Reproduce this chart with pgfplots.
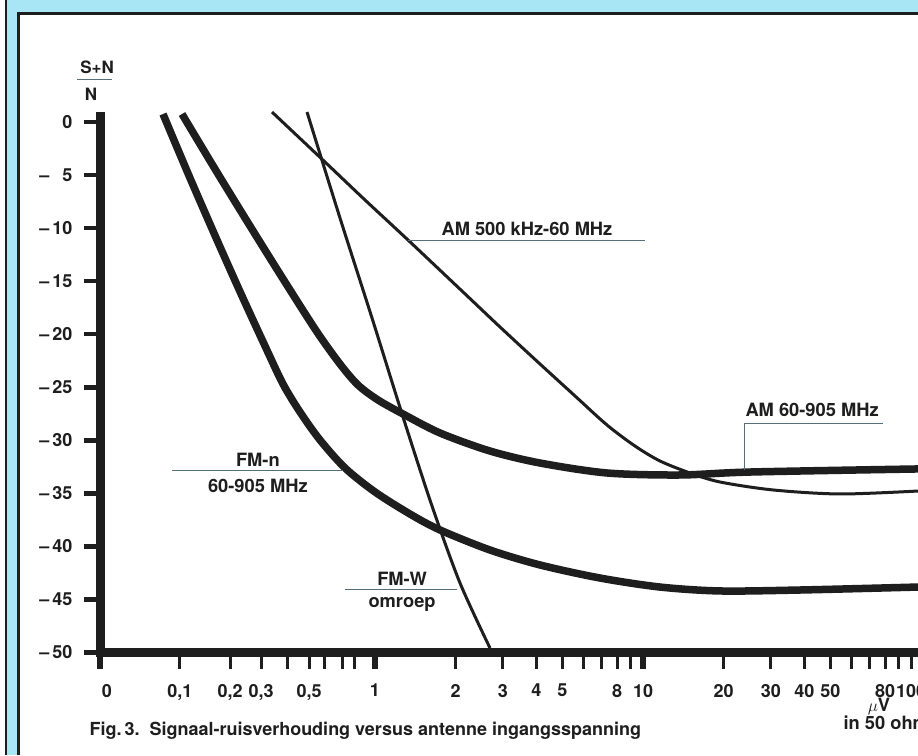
\documentclass[border=0pt]{standalone}
\usepackage{pgfplots}
\pgfplotsset{compat=1.18}
\usepackage{fontspec}
\setmainfont{TeX Gyre Heros}
\definecolor{ink}{HTML}{1E1E1E}
\definecolor{frameblue}{HTML}{A9E6F5}
\definecolor{uline}{HTML}{56707A}
\newcommand{\lf}{\fontsize{18.3}{21}\selectfont\bfseries}
\newcommand{\tf}{\fontsize{18}{20}\selectfont\bfseries}
\begin{document}
\begin{tikzpicture}[x=1pt,y=1pt]
\fill[white] (0,0) rectangle (918,755);
\fill[frameblue] (6,0) rectangle (918,755);
\draw[ink, line width=2.5pt] (6,0) -- (6,755);
\fill[white] (18,0) rectangle (918,741.5);
\draw[ink, line width=3pt] (18,0) -- (18,741.5) -- (918,741.5);
\begin{axis}[
  at={(100pt,102.5pt)}, anchor=south west,
  scale only axis, width=818pt, height=535.8pt,
  xmin=-1.0261, xmax=2.0261, ymin=-50, ymax=0.5,
  axis x line=bottom, axis y line=left,
  axis line style={-, line width=9pt, ink, line cap=rect},
  clip=false,
  tick align=outside, major tick length=16pt,
  xtick style={line width=3pt, ink},
  ytick style={line width=4.5pt, ink},
  tick label style={font=\tf, text=ink},
  xticklabel style={yshift=-12pt},
  yticklabel style={xshift=-8pt},
  xtick={-1.0261,-0.728,-0.541,-0.425,-0.325,-0.246,-0.187,-0.123,-0.075,0,0.301,0.477,0.602,0.699,0.778,0.845,0.903,0.954,1,1.301,1.477,1.602,1.699,1.778,1.845,1.903,1.954,2},
  xticklabels={{\hspace*{14pt}0},{0,1},{0,2},{0,3},{},{0,5},{},{},{},1,2,3,4,5,{},{},8,{},10,20,30,40,50,{},{},80,{},100},
  extra x ticks={-1.0261,0,1},
  extra x tick labels={},
  extra x tick style={xtick style={line width=6pt}},
  ytick={-50,-45,-40,-35,-30,-25,-20,-15,-10,-5,0},
  yticklabels={\textendash\,50,\textendash\,45,\textendash\,40,\textendash\,35,\textendash\,30,\textendash\,25,\textendash\,20,\textendash\,15,\textendash\,10,\textendash\,\phantom{0}5,0},
]
% FM-W omroep (thin, steep)
\addplot[ink, line width=3pt, smooth, line join=round] coordinates {
(-0.2537,0.94) (-0.1306,-9.05) (-0.0112,-18.47) (0.1045,-27.80) (0.2127,-36.19) (0.3172,-43.45) (0.4291,-49.58)};
% AM 500 kHz-60 MHz (thin)
\addplot[ink, line width=3pt, smooth, line join=round] coordinates {
(-0.3843,0.94) (-0.1866,-3.77) (-0.0373,-7.35) (0.1231,-11.12) (0.3284,-16.02) (0.4664,-19.32)
(0.6157,-22.81) (0.7463,-25.82) (0.8657,-28.56) (0.9701,-30.54) (1.0634,-31.95) (1.1754,-33.08)
(1.2873,-33.93) (1.4851,-34.68) (1.7351,-35.06) (2.0261,-34.78)};
% AM 60-905 MHz (thick)
\addplot[ink, line width=7.5pt, smooth, line join=round] coordinates {
(-0.7201,0.75) (-0.5970,-4.43) (-0.4664,-9.80) (-0.3358,-15.08) (-0.2164,-19.79) (-0.1306,-22.81)
(-0.0634,-24.79) (0.0112,-26.20) (0.1045,-27.52) (0.2425,-29.31) (0.4291,-31.01) (0.6157,-32.14)
(0.8657,-33.08) (1.1381,-33.27) (1.3993,-32.99) (2.0261,-32.70)};
% FM-n 60-905 MHz (thick)
\addplot[ink, line width=7.5pt, smooth, line join=round] coordinates {
(-0.7910,0.75) (-0.6903,-5.28) (-0.5896,-11.12) (-0.4963,-16.40) (-0.4104,-21.11) (-0.3433,-24.69)
(-0.2799,-27.33) (-0.2052,-29.97) (-0.1119,-32.61) (0.0,-34.87) (0.1306,-36.95) (0.2425,-38.45)
(0.4291,-40.34) (0.6157,-41.75) (0.8396,-42.98) (1.0634,-43.83) (1.2873,-44.20) (1.5858,-44.11) (2.0261,-43.83)};
% labels
\node[font=\lf, text=ink] at (axis cs:0.567,-10.08) {AM 500 kHz-60 MHz};
\draw[uline, line width=0.9pt] (axis cs:0.123,-11.12) -- (axis cs:1.007,-11.12);
\node[font=\lf, text=ink] at (axis cs:1.631,-27.14) {AM 60-905 MHz};
\draw[uline, line width=0.9pt] (axis cs:1.896,-28.37) -- (axis cs:1.377,-28.37) -- (axis cs:1.377,-32.8);
\node[font=\lf, text=ink] at (axis cs:-0.437,-31.86) {FM-n};
\draw[uline, line width=0.9pt] (axis cs:-0.757,-32.8) -- (axis cs:-0.119,-32.8);
\node[font=\lf, text=ink] at (axis cs:-0.437,-34.31) {60-905 MHz};
\node[font=\lf, text=ink] at (axis cs:0.101,-43.07) {FM-W};
\draw[uline, line width=0.9pt] (axis cs:-0.112,-44.02) -- (axis cs:0.306,-44.02);
\node[font=\lf, text=ink] at (axis cs:0.101,-45.52) {omroep};
\node[font=\fontsize{17}{20}\selectfont\bfseries, text=ink] at (axis cs:-1.037,5.18) {S+N};
\draw[uline, line width=0.9pt] (axis cs:-1.112,4.05) -- (axis cs:-0.981,4.05);
\node[font=\fontsize{17}{20}\selectfont\bfseries, text=ink] at (axis cs:-1.06,2.64) {N};
\end{axis}
\node[font=\fontsize{18}{22}\selectfont\bfseries, text=ink, anchor=west] at (86,24) {Fig.\,3.\ \ Signaal-ruisverhouding versus antenne ingangsspanning};
\node[font=\lf, text=ink] at (879,48) {$\mu$V};
\node[font=\lf, text=ink, anchor=west] at (840,32) {in 50 ohm};
\pgfresetboundingbox
\useasboundingbox (0,0) rectangle (918,755);
\end{tikzpicture}
\end{document}
